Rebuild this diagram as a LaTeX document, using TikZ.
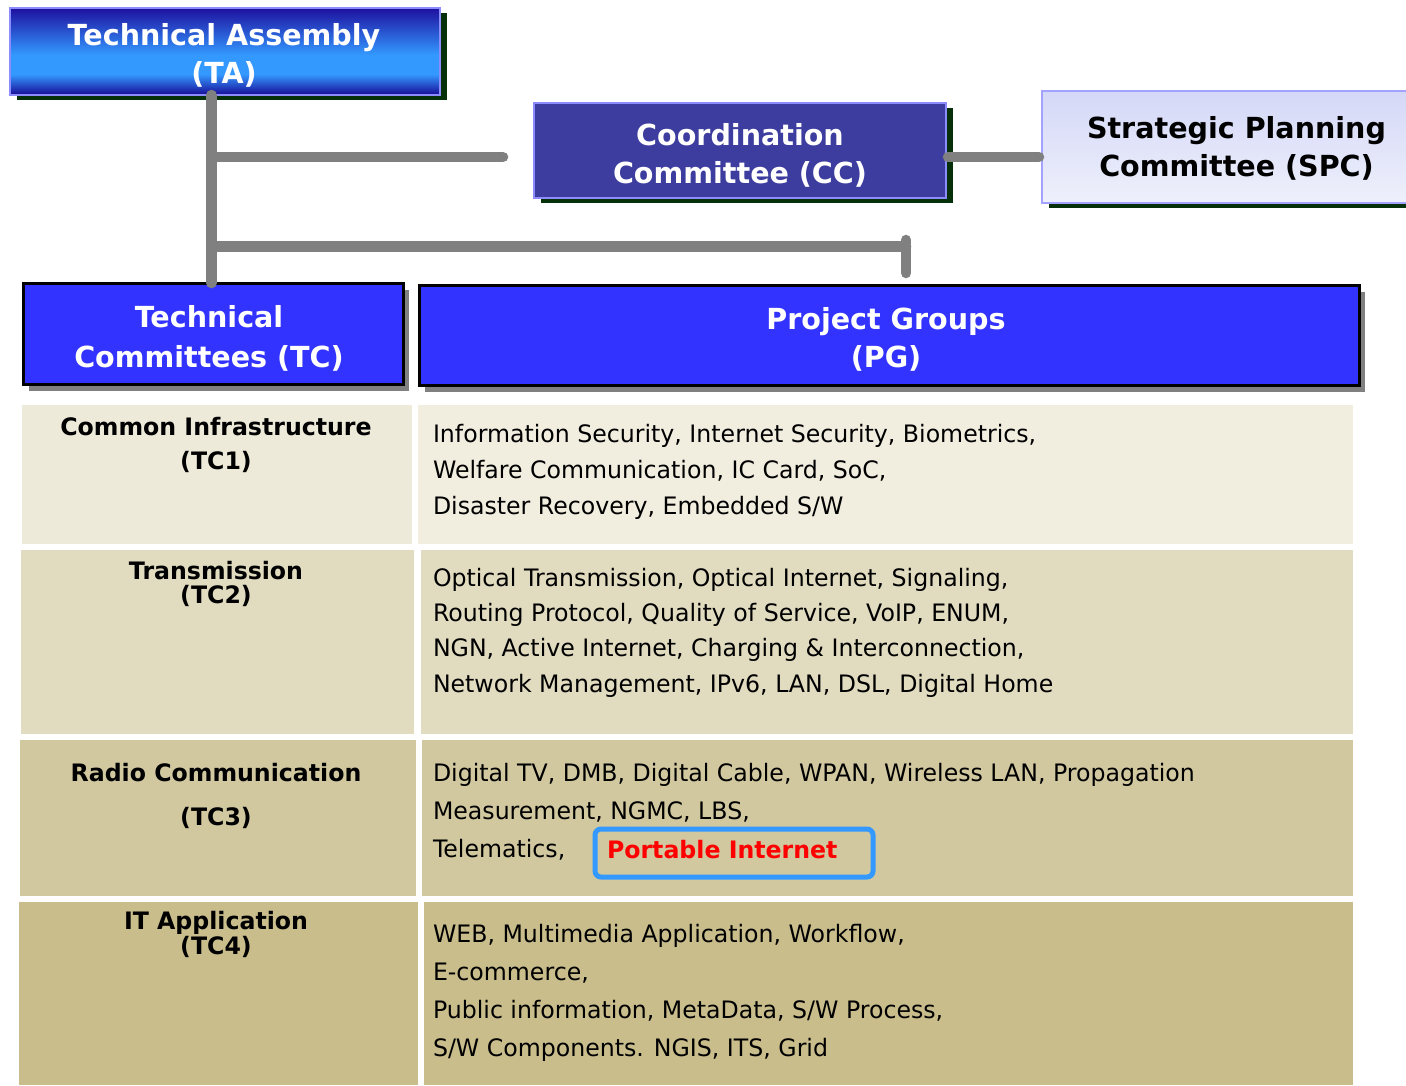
\documentclass[tikz,border=0pt]{standalone}
\usepackage{fontspec}
\setmainfont{DejaVu Sans}[FakeStretch=0.985]
\usetikzlibrary{shadows}

\definecolor{linkgray}{HTML}{808080}
\definecolor{boxblue}{HTML}{3333FF}
\definecolor{ccblue}{HTML}{3D3D9F}
\definecolor{taedge}{HTML}{8C8CFF}
\definecolor{darkshadow}{HTML}{06300A}
\definecolor{tadark}{HTML}{1E10A0}
\definecolor{tadeep}{HTML}{180A96}
\definecolor{talight}{HTML}{3399FF}
\definecolor{rowA}{HTML}{EEEAD9}
\definecolor{rowB}{HTML}{E1DBC0}
\definecolor{rowC}{HTML}{D1C8A0}
\definecolor{rowD}{HTML}{C9BD8C}
\definecolor{piedge}{HTML}{3399FF}

% dark top, broad light band below the middle, dark bottom
\pgfdeclareverticalshading{tashade}{100bp}{%
  color(0bp)=(tadeep); color(25bp)=(tadeep); color(37bp)=(talight);
  color(48bp)=(talight); color(75bp)=(tadark); color(100bp)=(tadark)}

\begin{document}
\begin{tikzpicture}[x=1pt,y=-1pt,
  every node/.style={inner sep=0pt, outer sep=0pt},
  link/.style={draw=linkgray, line width=10.5pt, line cap=round},
  topbox/.style={rectangle, line width=1.5pt,
    drop shadow={shadow xshift=7pt, shadow yshift=-5pt, fill=darkshadow, opacity=1}},
  tierbox/.style={rectangle, draw=black, line width=3pt, fill=boxblue,
    drop shadow={shadow xshift=6pt, shadow yshift=-7pt, fill=linkgray, opacity=1}},
  headtext/.style={align=center, font=\bfseries\fontsize{29}{38}\selectfont},
  cell/.style={rectangle, anchor=north west},
  tclabel/.style={align=center, font=\bfseries\fontsize{24}{34}\selectfont},
  pglist/.style={anchor=west, align=left, font=\fontsize{24}{36}\selectfont}]

\useasboundingbox (0,0) rectangle (1406,1085);
\fill[white] (0,0) rectangle (1406,1085);

% ---- top-level bodies ----
\node[topbox, draw=taedge, shading=tashade,
      minimum width=430, minimum height=87] (ta) at (225,51.5) {};
\node[headtext, text=white] (tatext) at (224,55.5) {Technical Assembly\\(TA)};

\node[topbox, draw=taedge, fill=ccblue, minimum width=412, minimum height=95]
      (cc) at (740,150.5) {};
\node[headtext, text=white] (cctext) at (740,155.5) {Coordination\\Committee (CC)};

\node[topbox, draw=taedge!80, top color={rgb,255:red,212;green,216;blue,247},
      bottom color={rgb,255:red,238;green,240;blue,251},
      minimum width=390, minimum height=112] (spc) at (1237,147) {};
\node[headtext, text=black] (spctext) at (1236.5,148.5) {Strategic Planning\\Committee (SPC)};

% ---- committee and group tiers ----
\node[tierbox, minimum width=380, minimum height=101] (tc) at (213,333.5) {};
\node[headtext, text=white, font=\bfseries\fontsize{29}{40}\selectfont]
      (tctext) at (209,338.5) {Technical\\Committees (TC)};

\node[tierbox, minimum width=940, minimum height=100] (pg) at (889,335) {};
\node[headtext, text=white] (pgtext) at (886,339.5) {Project Groups\\(PG)};

% ---- connectors ----
\coordinate (trunk) at (211.5,157);
\coordinate (ccend) at (503,157);
\coordinate (pgbar) at (211.5,246.5);
\coordinate (pgdrop) at (906,246.5);
\coordinate (pgstubtop) at (906,240);
\coordinate (pgstubend) at (906,273);
\draw[link] (ta.south -| trunk) -- (tc.north -| trunk);
\draw[link] (trunk) -- (ccend);
\draw[link] ([xshift=2pt]cc.east |- trunk) -- ([xshift=-3pt]spc.west |- trunk);
\draw[link] (pgbar) -- (pgdrop);
\draw[link] (pgstubtop) -- (pgstubend);

% ---- table rows: committees (left) and project groups (right) ----
\node[cell, fill=rowA, minimum width=390, minimum height=139] (l1) at (22,405) {};
\node[cell, fill=rowA!85!white, minimum width=935, minimum height=139] (r1) at (418,405) {};
\node[cell, fill=rowB, minimum width=393, minimum height=184] (l2) at (21,550) {};
\node[cell, fill=rowB, minimum width=932, minimum height=184] (r2) at (421,550) {};
\node[cell, fill=rowC, minimum width=396, minimum height=156] (l3) at (20,740) {};
\node[cell, fill=rowC, minimum width=931, minimum height=156] (r3) at (422,740) {};
\node[cell, fill=rowD, minimum width=399, minimum height=183] (l4) at (19,902) {};
\node[cell, fill=rowD, minimum width=929, minimum height=183] (r4) at (424,902) {};

\node[tclabel] (tc1) at (216,445.2) {Common Infrastructure\\(TC1)};
\node[tclabel, font=\bfseries\fontsize{24}{24}\selectfont] (tc2) at (216,584.2) {Transmission\\(TC2)};
\node[tclabel, font=\bfseries\fontsize{24}{44}\selectfont] (tc3) at (216,796.2) {Radio Communication\\(TC3)};
\node[tclabel, font=\bfseries\fontsize{24}{25}\selectfont] (tc4) at (216,934.7) {IT Application\\(TC4)};

\node[pglist] (pg1) at (433,471.5) {Information Security, Internet Security, Biometrics,\\
  Welfare Communication, IC Card, SoC,\\Disaster Recovery, Embedded S/W};
\node[pglist, font=\fontsize{24}{35.3}\selectfont] (pg2) at (433,632.5) {Optical Transmission, Optical Internet, Signaling,\\
  Routing Protocol, Quality of Service, VoIP, ENUM,\\
  NGN, Active Internet, Charging \& Interconnection,\\
  Network Management, IPv6, LAN, DSL, Digital Home};
\node[pglist, font=\fontsize{24}{38}\selectfont] (pg3) at (433,812) {Digital TV, DMB, Digital Cable, WPAN, Wireless LAN, Propagation\\
  Measurement, NGMC, LBS,\\Telematics,};
\node[pglist, font=\fontsize{24}{38}\selectfont] (pg4) at (433,992.5) {WEB, Multimedia Application, Workflow,\\
  E-commerce,\\Public information, MetaData, S/W Process,\\
  S/W Components. NGIS, ITS, Grid};

% ---- highlighted project group ----
\node[rectangle, draw=piedge, line width=5pt, rounded corners=6pt,
      minimum width=278, minimum height=48] (pibox) at (734,853) {};
\node[anchor=west, text=red, font=\bfseries\fontsize{24}{28}\selectfont]
      (pitext) at (607,849.5) {Portable Internet};

\end{tikzpicture}
\end{document}
